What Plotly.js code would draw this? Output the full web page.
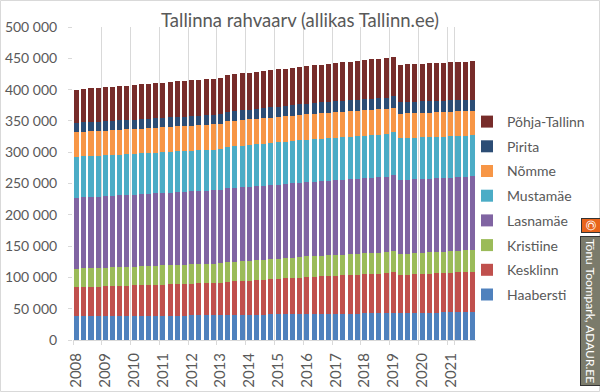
<!DOCTYPE html>
<html><head><meta charset="utf-8">
<script src="https://cdn.plot.ly/plotly-3.0.1.min.js"></script>
<style>html,body{margin:0;padding:0;background:#fff;}#chart{width:600px;height:392px;}</style>
</head><body><div id="chart"></div>
<script>
const years = [2008,2009,2010,2011,2012,2013,2014,2015,2016,2017,2018,2019,2020,2021];
const quarters = ['Q1','Q2','Q3','Q4'];
const categories = [];
years.forEach(y => quarters.forEach(q => categories.push(y + ' ' + q)));

const districts = ['Haabersti','Kesklinn','Kristiine','Lasnamäe','Mustamäe','Nõmme','Pirita','Põhja-Tallinn'];

const haabersti = [37800,37880,37970,38050,38140,38220,38310,38390,38480,38560,38650,38730,38820,38900,38990,39070,39160,39240,39330,39410,39500,
  39900,40040,40180,40330,40470,40610,40750,40890,41030,41180,41320,41460,41600,
  41720,41840,41960,42080,42200,42320,42440,42560,42680,42800,
  43200,
  42700,42930,43160,43390,43620,43850,44080,44310,44540,44770,45000];
const kesklinn = [46500,46780,47050,47330,47600,47880,48150,48430,48700,48980,49250,49530,49800,50080,50350,50630,50900,51180,51450,51730,52000,
  53000,53540,54080,54630,55170,55710,56250,56790,57330,57880,58420,58960,59500,
  59900,60300,60700,61100,61500,61900,62300,62700,63100,63500,
  64800,
  61200,61500,61800,62100,62400,62700,63000,63300,63600,63900,64200];
const kristiine = [29800,29850,29900,29950,30000,30050,30100,30150,30200,30250,30300,30350,30400,30450,30500,30550,30600,30650,30700,30750,30800,
  31200,31370,31530,31700,31870,32030,32200,32370,32530,32700,32870,33030,33200,
  33250,33300,33350,33400,33450,33500,33550,33600,33650,33700,
  34100,
  33500,33620,33740,33860,33980,34100,34220,34340,34460,34580,34700];
const lasnamae = [113000,113230,113450,113680,113900,114130,114350,114580,114800,115030,115250,115480,115700,115930,116150,116380,116600,116830,117050,117280,117500,
  118500,118450,118400,118380,118350,118330,118300,118320,118350,118380,118420,118460,118500,
  118700,118900,119100,119300,119500,119700,119900,120100,120300,120500,
  121000,
  118300,118200,118100,118000,117900,117800,117700,117600,117500,117400,117300];
const mustamae = [65500,65480,65450,65430,65400,65380,65350,65330,65300,65280,65250,65230,65200,65180,65150,65130,65100,65080,65050,65030,65000,
  66000,66170,66330,66500,66670,66830,67000,67170,67330,67500,67670,67830,68000,
  68000,68020,68050,68030,68000,67980,68000,68030,68010,68000,
  69500,
  66800,66680,66560,66440,66320,66200,66080,65960,65840,65720,65600];
const nomme = [39200,39260,39310,39370,39420,39480,39530,39590,39640,39700,39750,39810,39860,39920,39970,40030,40080,40140,40190,40250,40300,
  40800,40820,40830,40850,40870,40880,40900,40920,40930,40950,40970,40980,41000,
  40950,40900,40850,40800,40750,40700,40650,40600,40550,40500,
  38500,
  38900,38960,39020,39080,39140,39200,39260,39320,39380,39440,39500];
const pirita = [15000,15010,15020,15030,15040,15050,15060,15070,15080,15090,15100,15110,15120,15130,15140,15150,15160,15170,15180,15190,15200,
  15400,15530,15650,15780,15900,16030,16150,16280,16400,16530,16650,16780,16900,
  17020,17140,17260,17380,17500,17620,17740,17860,17980,18100,
  18500,
  18600,18490,18380,18270,18160,18050,17940,17830,17720,17610,17500];
const pohjaTallinn = [53200,53460,53710,53970,54220,54480,54730,54990,55240,55500,55750,56010,56260,56520,56770,57030,57280,57540,57790,58050,58300,
  58500,58640,58780,58930,59070,59210,59350,59490,59630,59780,59920,60060,60200,
  60530,60860,61190,61520,61850,62180,62510,62840,63170,63500,
  62000,
  59700,59850,60000,60150,60300,60450,60600,60750,60900,61050,61200];

const seriesValues = [haabersti, kesklinn, kristiine, lasnamae, mustamae, nomme, pirita, pohjaTallinn];
const colors = ['#4F81BD','#C0504D','#9BBB59','#8064A2','#4BACC6','#F79646','#2C4D75','#772C2A'];

const traces = districts.map((name, i) => ({
  type: 'bar',
  name: name,
  x: categories,
  y: seriesValues[i],
  marker: {color: colors[i], line: {width: 0}},
  legendgroup: name,
  legendrank: 1000 - i,
  hoverinfo: 'name+y'
}));

const FONT = 'Lato, "Open Sans", sans-serif';
const W = 600, H = 392, L = 73, R = 124, T = 27, B = 52;
const px2paperX = p => (p - L) / (W - L - R);
const px2paperY = p => (H - B - p) / (H - T - B);

const layout = {
  width: W, height: H,
  margin: {l: L, r: R, t: T, b: B, pad: 0, autoexpand: false},
  paper_bgcolor: '#fff', plot_bgcolor: '#fff',
  separators: '. ',
  barmode: 'stack',
  bargap: 0.3,
  font: {family: FONT, color: '#595959', size: 14},
  title: {text: 'Tallinna rahvaarv (allikas Tallinn.ee)', font: {family: FONT, size: 18.5, color: '#595959'},
    x: 0.5, xref: 'container', xanchor: 'center', y: 1 - 21/H, yref: 'container', yanchor: 'middle'},
  xaxis: {
    type: 'category',
    tickmode: 'array',
    tickvals: years.map(y => y + ' Q1'),
    ticktext: years.map(String),
    tickson: 'boundaries',
    tickangle: -90,
    ticks: 'outside', ticklen: 4, tickcolor: '#d9d9d9',
    showgrid: true, gridcolor: '#d9d9d9', gridwidth: 1,
    showline: true, linecolor: '#d9d9d9', linewidth: 1,
    tickfont: {family: FONT, size: 15, color: '#595959'},
    ticklabelstandoff: 6,
    automargin: false,
    fixedrange: true
  },
  yaxis: {
    range: [0, 500000],
    tickmode: 'linear', tick0: 0, dtick: 50000,
    tickformat: ',d',
    showgrid: false, zeroline: false, showline: false,
    ticks: 'outside', ticklen: 4, tickcolor: '#d9d9d9',
    tickfont: {family: FONT, size: 14, color: '#595959'},
    ticklabelstandoff: 8,
    automargin: false,
    fixedrange: true
  },
  legend: {
    traceorder: 'grouped',
    tracegroupgap: 3.5,
    xref: 'container', yref: 'container',
    x: 467/W, xanchor: 'left',
    y: 1 - 106/H, yanchor: 'top',
    bgcolor: 'rgba(0,0,0,0)',
    font: {family: FONT, size: 14, color: '#595959'}
  },
  annotations: [
    {xref: 'paper', yref: 'paper', x: px2paperX(591), y: px2paperY(311), xanchor: 'center', yanchor: 'middle',
     text: 'Tõnu Toompark, ADAUR.EE', textangle: 90, showarrow: false,
     font: {family: FONT, size: 12, color: '#ffffff'}, bgcolor: '#7b7b6b', bordercolor: '#333333', borderwidth: 1, borderpad: 2},
    {xref: 'paper', yref: 'paper', x: px2paperX(591), y: px2paperY(225), xanchor: 'center', yanchor: 'middle',
     text: '©', textangle: 90, showarrow: false,
     font: {family: FONT, size: 13, color: '#ffffff'}, bgcolor: '#e8641b', bordercolor: '#333333', borderwidth: 1, borderpad: 1}
  ],
  shapes: [
    {type: 'rect', xref: 'paper', yref: 'paper', x0: px2paperX(0.5), x1: px2paperX(599.5), y0: px2paperY(391.5), y1: px2paperY(0.5),
     line: {color: '#d9d9d9', width: 1}, fillcolor: 'rgba(0,0,0,0)', layer: 'below'}
  ]
};

Plotly.newPlot('chart', traces, layout, {displayModeBar: false, staticPlot: true});
</script>
</body></html>
